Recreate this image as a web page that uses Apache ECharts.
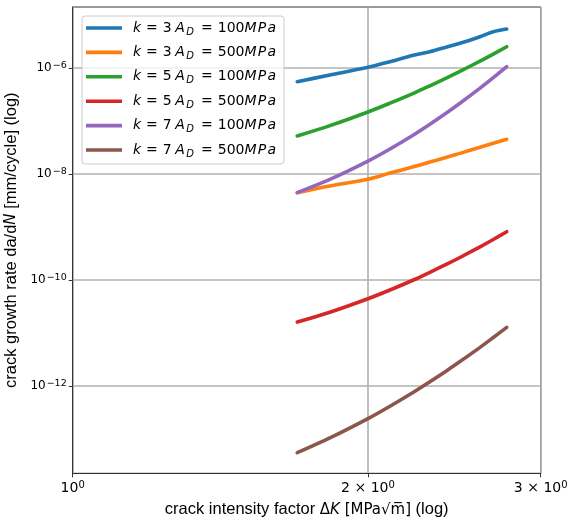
<!DOCTYPE html>
<html>
<head>
<meta charset="utf-8">
<script src="https://cdn.jsdelivr.net/npm/echarts@6/dist/echarts.min.js"></script>
<style>
  html, body { margin: 0; padding: 0; background: #ffffff; }
  #chart { width: 570px; height: 521px; }
</style>
</head>
<body>
<div id="chart"></div>
<script>
// Stress intensity range ΔK [MPa√m] at which da/dN was evaluated
const deltaK = [1.694, 1.829, 2.0, 2.106, 2.225, 2.313, 2.406, 2.482, 2.602, 2.684, 2.770];

// Crack growth rate da/dN [mm/cycle] for each (k, A_D) combination
const rateK3A100 = [5.52e-7, 7.38e-7, 1.03e-6, 1.315e-6, 1.74e-6, 2.03e-6, 2.49e-6, 2.92e-6, 3.90e-6, 4.84e-6, 5.45e-6];
const rateK3A500 = [4.44e-9, 5.94e-9, 7.94e-9, 1.04e-8, 1.37e-8, 1.68e-8, 2.07e-8, 2.45e-8, 3.19e-8, 3.79e-8, 4.52e-8];
const rateK5A100 = [5.21e-8, 8.17e-8, 1.48e-7, 2.17e-7, 3.33e-7, 4.62e-7, 6.52e-7, 8.65e-7, 1.35e-6, 1.83e-6, 2.52e-6];
const rateK5A500 = [1.61e-11, 2.47e-11, 4.43e-11, 6.47e-11, 1.0e-10, 1.40e-10, 1.99e-10, 2.66e-10, 4.23e-10, 5.82e-10, 8.15e-10];
const rateK7A100 = [4.44e-9, 7.89e-9, 1.75e-8, 2.96e-8, 5.45e-8, 8.69e-8, 1.43e-7, 2.16e-7, 4.16e-7, 6.56e-7, 1.06e-6];
const rateK7A500 = [5.52e-14, 1.05e-13, 2.43e-13, 4.16e-13, 7.62e-13, 1.205e-12, 1.945e-12, 2.89e-12, 5.36e-12, 8.22e-12, 1.28e-11];

// Legend parameters
const kValues = [3, 3, 5, 5, 7, 7];
const adValues = [100, 500, 100, 500, 100, 500];
const rateSeries = [rateK3A100, rateK3A500, rateK5A100, rateK5A500, rateK7A100, rateK7A500];

// Tick positions
const xTicks = [1, 2, 3];
const yTicks = [1e-6, 1e-8, 1e-10, 1e-12];

const colors = ['#1f77b4', '#ff7f0e', '#2ca02c', '#d62728', '#9467bd', '#8c564b'];
const mathFont = 'DejaVu Sans';
const textFont = 'Liberation Sans';

const names = kValues.map((k, i) => 'k=' + k + ' AD=' + adValues[i] + 'MPa');

const series = rateSeries.map((rates, i) => ({
  name: names[i],
  type: 'line',
  data: deltaK.map((x, j) => [x, rates[j]]),
  showSymbol: false,
  symbol: 'none',
  smooth: 0.3,
  lineStyle: { width: 3.6, color: colors[i], cap: 'round', join: 'round' },
  itemStyle: { color: colors[i] },
  clip: true
}));

// Math-style legend label: k = 3 A_D = 100MPa
function legendLabel(name) {
  const i = names.indexOf(name);
  return '{k|k}{eq|=}{n3|' + kValues[i] + '}{a|A}{sub|D}{eq|=}{t|' + adValues[i] + '}{ip|M}{ip|P}{i|a}';
}

const chart = echarts.init(document.getElementById('chart'), null, { renderer: 'canvas' });

chart.setOption({
  animation: false,
  backgroundColor: '#ffffff',
  grid: {
    left: 72.7, right: 29.3, top: 7, bottom: 47.7,
    outerBoundsMode: 'none',
    containLabel: false,
    show: true, borderColor: '#333333', borderWidth: 1, backgroundColor: '#ffffff'
  },
  legend: {
    orient: 'vertical',
    left: 82, top: 16,
    data: names,
    icon: 'rect',
    itemWidth: 36, itemHeight: 3.6,
    itemGap: 8.4,
    padding: [5, 8, 5, 4],
    backgroundColor: 'rgba(255,255,255,0.8)',
    borderColor: '#cccccc', borderWidth: 1, borderRadius: 3,
    formatter: legendLabel,
    textStyle: {
      padding: [0, 0, 0, 6],
      rich: {
        t: { fontFamily: mathFont, fontSize: 14, lineHeight: 18, color: '#000' },
        n3: { fontFamily: mathFont, fontSize: 14, lineHeight: 18, color: '#000', padding: [0, 3.6, 0, 0] },
        eq: { fontFamily: mathFont, fontSize: 14, lineHeight: 18, color: '#000', padding: [0, 5, 0, 5] },
        k: { fontFamily: mathFont, fontStyle: 'italic', fontSize: 14, lineHeight: 18, color: '#000' },
        a: { fontFamily: mathFont, fontStyle: 'italic', fontSize: 14, lineHeight: 18, color: '#000', padding: [0, 1.4, 0, 0] },
        i: { fontFamily: mathFont, fontStyle: 'italic', fontSize: 14, lineHeight: 18, color: '#000' },
        ip: { fontFamily: mathFont, fontStyle: 'italic', fontSize: 14, lineHeight: 18, color: '#000', padding: [0, 1.2, 0, 0] },
        sub: { fontFamily: mathFont, fontStyle: 'italic', fontSize: 10, lineHeight: 8, verticalAlign: 'bottom', color: '#000', padding: [0, 2, 0, 0] }
      }
    }
  },
  xAxis: {
    type: 'log',
    logBase: 10,
    min: 1,
    max: 3,
    name: '{t|crack intensity factor }{m|Δ}{mi|K}{m| [MPa√m̅]}{t| (log)}',
    nameLocation: 'middle',
    nameGap: 28,
    nameTextStyle: {
      rich: {
        t: { fontFamily: textFont, fontSize: 16.5, color: '#000' },
        m: { fontFamily: mathFont, fontSize: 15, color: '#000' },
        mi: { fontFamily: mathFont, fontStyle: 'italic', fontSize: 15, color: '#000' }
      }
    },
    axisLine: { show: true, lineStyle: { color: '#333333', width: 1 } },
    axisTick: { show: true, inside: false, length: 4, customValues: xTicks, lineStyle: { color: '#333333', width: 1 } },
    splitLine: { show: true, lineStyle: { color: '#b0b0b0', width: 1.6 } },
    axisLabel: {
      customValues: xTicks,
      margin: 7,
      formatter: function (v) {
        const e = Math.floor(Math.log10(v) + 1e-9);
        const m = Math.round(v / Math.pow(10, e));
        const base = m === 1 ? '10' : m + ' × 10';
        return '{b|' + base + '}{s|' + e + '}';
      },
      rich: {
        b: { fontFamily: mathFont, fontSize: 14, lineHeight: 17, color: '#000' },
        s: { fontFamily: mathFont, fontSize: 10, lineHeight: 10, verticalAlign: 'top', color: '#000' }
      }
    }
  },
  yAxis: {
    type: 'log',
    logBase: 10,
    min: Math.pow(10, -13.647),
    max: Math.pow(10, -4.849),
    name: '{t|crack growth rate da/d}{mi|N}{t| [mm/cycle] (log)}',
    nameLocation: 'middle',
    nameGap: 48,
    nameTextStyle: {
      rich: {
        t: { fontFamily: textFont, fontSize: 16.5, color: '#000' },
        mi: { fontFamily: mathFont, fontStyle: 'italic', fontSize: 15, color: '#000' }
      }
    },
    axisLine: { show: true, lineStyle: { color: '#333333', width: 1 } },
    axisTick: { show: true, inside: false, length: 4, customValues: yTicks, lineStyle: { color: '#333333', width: 1 } },
    splitLine: { show: true, lineStyle: { color: '#b0b0b0', width: 1.6 } },
    axisLabel: {
      customValues: yTicks,
      margin: 6,
      formatter: function (v) {
        const e = Math.round(Math.log10(v));
        return '{b|10}{s|' + (e < 0 ? '−' + (-e) : e) + '}';
      },
      rich: {
        b: { fontFamily: mathFont, fontSize: 12, lineHeight: 14, color: '#000' },
        s: { fontFamily: mathFont, fontSize: 9.5, lineHeight: 9, verticalAlign: 'top', color: '#000', padding: [0, 0, 0, 1] }
      }
    }
  },
  series: series
});
</script>
</body>
</html>
